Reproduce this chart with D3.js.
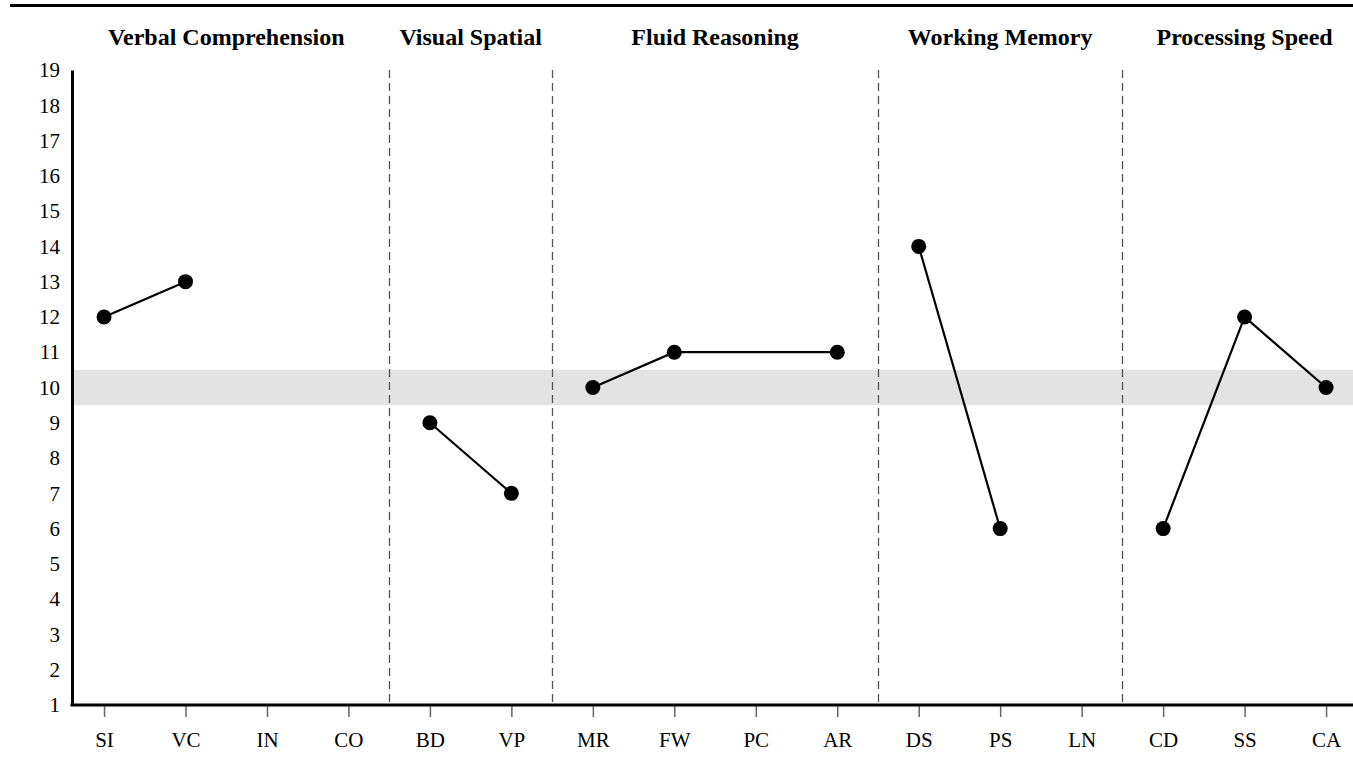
<!DOCTYPE html>
<html>
<head>
<meta charset="utf-8">
<script src="https://cdn.jsdelivr.net/npm/d3@7"></script>
<style>
html,body{margin:0;padding:0;background:#fff;}
svg{display:block;}
</style>
</head>
<body>
<svg id="chart" width="1353" height="757"></svg>
<script>
const categories = ["SI","VC","IN","CO","BD","VP","MR","FW","PC","AR","DS","PS","LN","CD","SS","CA"];
const groupNames = ["Verbal Comprehension","Visual Spatial","Fluid Reasoning","Working Memory","Processing Speed"];
const groupMembers = [["SI","VC","IN","CO"],["BD","VP"],["MR","FW","PC","AR"],["DS","PS","LN"],["CD","SS","CA"]];
const scores = [12,13,null,null,9,7,10,11,null,11,14,6,null,6,12,10];
const yTicks = [1,2,3,4,5,6,7,8,9,10,11,12,13,14,15,16,17,18,19];
const averageBand = [9.5,10.5];

const W = 1353, H = 757;
const axisX = 72, axisRight = W;
const svg = d3.select("#chart");
const serif = "'Liberation Serif','Times New Roman',Times,serif";

const y = d3.scaleLinear().domain([1,19]).range([705,70]);
const xb = d3.scaleBand().domain(categories).range([63.3,1366.8]).paddingInner(0).paddingOuter(0);
const cx = c => xb(c) + xb.bandwidth()/2;

// top rule
svg.append("line").attr("x1",10).attr("x2",W).attr("y1",5.5).attr("y2",5.5)
  .attr("stroke","#000").attr("stroke-width",3);

// average band
svg.append("rect")
  .attr("x",axisX).attr("width",axisRight-axisX)
  .attr("y",y(averageBand[1])).attr("height",y(averageBand[0])-y(averageBand[1]))
  .attr("fill","#e3e3e3");

// group headers
groupMembers.forEach((m,i)=>{
  const x0 = xb(m[0]);
  const x1 = xb(m[m.length-1]) + xb.bandwidth();
  svg.append("text").attr("x",(x0+x1)/2).attr("y",45)
    .attr("text-anchor","middle").attr("font-family",serif)
    .attr("font-weight","bold").attr("font-size",24).attr("fill","#000")
    .text(groupNames[i]);
});

// dividers
groupMembers.slice(1).forEach(m=>{
  const xd = Math.round(xb(m[0]))+0.5;
  svg.append("line").attr("x1",xd).attr("x2",xd).attr("y1",y(19)).attr("y2",y(1))
    .attr("stroke","#555").attr("stroke-width",1.3).attr("stroke-dasharray","8,5");
});

// y axis
const yAxis = d3.axisLeft(y).tickValues(yTicks).tickSize(0).tickPadding(12).tickFormat(d3.format("d"));
const gy = svg.append("g").attr("transform",`translate(${axisX},0)`).call(yAxis);
gy.select(".domain").attr("stroke","#000").attr("stroke-width",3);
gy.selectAll("text").attr("font-family",serif).attr("font-size",21).attr("fill","#000");

// x axis
const xp = d3.scalePoint().domain(categories).range([cx(categories[0]), cx(categories[categories.length-1])]);
const xAxis = d3.axisBottom(xp).tickSizeInner(12).tickSizeOuter(0).tickPadding(15);
const gx = svg.append("g").attr("transform",`translate(0,${y(1)})`).call(xAxis);
gx.select(".domain").remove();
gx.selectAll(".tick line").attr("stroke","#666").attr("stroke-width",1.5);
gx.selectAll("text").attr("font-family",serif).attr("font-size",21).attr("fill","#000");
svg.append("line").attr("x1",axisX-1.5).attr("x2",axisRight).attr("y1",y(1)).attr("y2",y(1))
  .attr("stroke","#000").attr("stroke-width",3);

// lines per group
const line = d3.line().x(d=>cx(d.c)).y(d=>y(d.v));
groupMembers.forEach(m=>{
  const pts = m.map(c=>({c, v: scores[categories.indexOf(c)]})).filter(d=>d.v!==null);
  if (pts.length>1) {
    svg.append("path").attr("d",line(pts)).attr("fill","none")
      .attr("stroke","#000").attr("stroke-width",2.2);
  }
});

// points
const pts = categories.map((c,i)=>({c, v: scores[i]})).filter(d=>d.v!==null);
svg.selectAll("circle.pt").data(pts).enter().append("circle")
  .attr("class","pt").attr("cx",d=>cx(d.c)).attr("cy",d=>y(d.v)).attr("r",7.5).attr("fill","#000");
</script>
</body>
</html>
